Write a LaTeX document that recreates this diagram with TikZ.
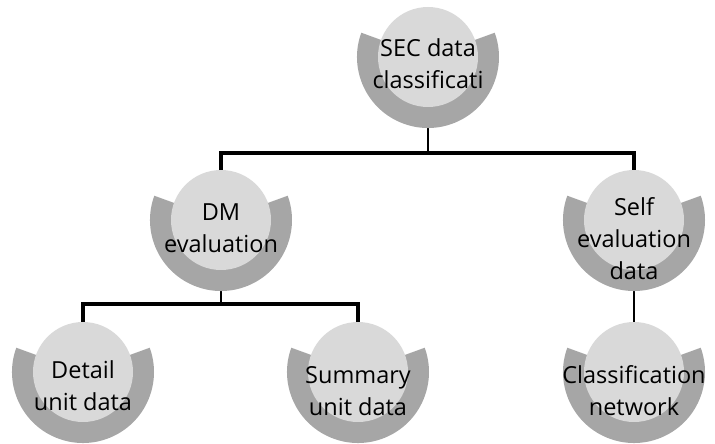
\documentclass[tikz,border=0pt]{standalone}
\usepackage{fontspec}
\setmainfont{Open Sans}
\usetikzlibrary{calc,backgrounds}
\definecolor{arcgray}{HTML}{A6A6A6}
\definecolor{discgray}{HTML}{D9D9D9}
\tikzset{
  disc/.style={circle, fill=discgray, minimum size=100pt, inner sep=0pt},
  lbl/.style={align=center, font=\fontsize{23.5}{32}\selectfont, text=black, inner sep=0pt},
  thinline/.style={draw=black, line width=1.1pt},
  thickline/.style={draw=black, line width=3.2pt},
}
\newcommand\hnode[4]{%
  \fill[arcgray] ($(#2)+(160:71)$) arc[start angle=160,end angle=380,radius=71]
     -- ($(#2)+(20:40)$) arc[start angle=380,end angle=160,radius=40] -- cycle;
  \node[disc] (#1) at (#2) {};
  \node[lbl] (#1-t) at ($(#1.center)+(0,-#4)$) {#3};
}
\begin{document}
\begin{tikzpicture}[x=1pt,y=1pt]
\useasboundingbox (0,0) rectangle (715,-444);
\hnode{sec}{428,-57}{SEC data\\classificati}{7}
\hnode{dm}{221,-220}{DM\\evaluation}{8}
\hnode{self}{634,-220}{Self\\evaluation\\data}{19}
\hnode{det}{83,-372}{Detail\\unit data}{14}
\hnode{sum}{358,-372}{Summary\\unit data}{19}
\hnode{cls}{634,-372}{Classification\\network}{19}
\coordinate (j1) at (428,-153);
\coordinate (j2) at (221,-304);
\begin{pgfonlayer}{background}
  \draw[thinline] (sec.center) -- (j1);
  \draw[thickline] (dm.center) |- (j1) -| (self.center);
  \draw[thinline] (dm.center) -- (j2);
  \draw[thickline] (det.center) |- (j2) -| (sum.center);
  \draw[thinline] (self.center) -- (cls.center);
\end{pgfonlayer}
\end{tikzpicture}
\end{document}
